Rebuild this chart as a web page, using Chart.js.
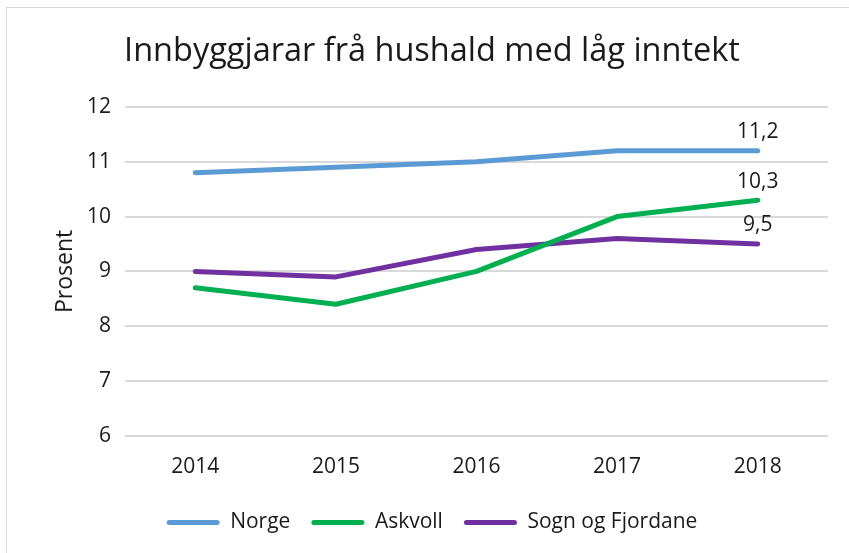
<!DOCTYPE html>
<html>
<head>
<meta charset="utf-8">
<script src="https://cdn.jsdelivr.net/npm/chart.js@4.4.0/dist/chart.umd.min.js"></script>
<style>
  html, body { margin: 0; padding: 0; background: #fff; overflow: hidden; }
  #frame { position: absolute; left: 6px; top: 7px; width: 900px; height: 600px; border: 1px solid #d9d9d9; }
  #wrap { position: absolute; left: 0; top: 0; width: 849px; height: 553px; }
</style>
</head>
<body>
<div id="frame"></div>
<div id="wrap"><canvas id="mygraph"></canvas></div>
<script>
// data
const years = ["2014", "2015", "2016", "2017", "2018"];
const norge = [10.8, 10.9, 11.0, 11.2, 11.2];
const askvoll = [8.7, 8.4, 9.0, 10.0, 10.3];
const sognFjordane = [9.0, 8.9, 9.4, 9.6, 9.5];

const titleText = "Innbyggjarar frå hushald med låg inntekt";

const FONT = "'Open Sans', 'Noto Sans', sans-serif";

// value label at the last point of each line, plus the title (centred like in the original, not on the canvas)
const extraText = {
    id: "extraText",
    afterLayout(chart) {
        // the original legend is centred on the frame, a bit right of the canvas middle
        chart.legend.left += 18;
        chart.legend.right += 18;
    },
    afterDatasetsDraw(chart) {
        const c = chart.ctx;
        c.save();
        c.font = "21px " + FONT;
        c.fillStyle = "#1a1a1a";
        c.textAlign = "center";
        c.textBaseline = "bottom";
        chart.data.datasets.forEach(function(ds, i) {
            const pts = chart.getDatasetMeta(i).data;
            const p = pts[pts.length - 1];
            const v = ds.data[ds.data.length - 1];
            c.fillText(v.toFixed(1).replace(".", ","), p.x, p.y - 8);
        });
        c.font = "32.5px " + FONT;
        c.textBaseline = "middle";
        c.fillText(titleText, 432, 52);
        c.restore();
    }
};

var ctx = document.getElementById("mygraph").getContext("2d");

var chart = new Chart(ctx, {
    type: "line",
    data: {
        labels: years,
        datasets: [{
            label: "Norge",
            data: norge,
            borderColor: "#5b9bd5",
            backgroundColor: "#5b9bd5",
        }, {
            label: "Askvoll",
            data: askvoll,
            borderColor: "#00b050",
            backgroundColor: "#00b050",
        }, {
            label: "Sogn og Fjordane",
            data: sognFjordane,
            borderColor: "#7030a0",
            backgroundColor: "#7030a0",
        }],
    },
    options: {
        responsive: true,
        maintainAspectRatio: false,
        animation: false,
        datasets: {
            line: {
                borderWidth: 5,
                pointRadius: 0,
                tension: 0,
                borderCapStyle: "round",
                borderJoinStyle: "round",
            },
        },
        layout: {
            padding: { left: 0, right: 21, top: 107, bottom: 10 },
        },
        scales: {
            x: {
                offset: true,
                grid: { display: false },
                border: { display: false },
                ticks: { color: "#1a1a1a", font: { family: FONT, size: 21 }, padding: 11 },
            },
            y: {
                min: 6,
                max: 12,
                ticks: { stepSize: 1, color: "#1a1a1a", font: { family: FONT, size: 21 }, padding: 14 },
                grid: { color: "#d9d9d9", lineWidth: 2, drawTicks: false },
                border: { display: false },
                title: {
                    display: true,
                    text: "Prosent",
                    color: "#1a1a1a",
                    font: { family: FONT, size: 23 },
                    padding: { top: 52, bottom: 0 },
                },
                afterFit: function(scale) {
                    scale.width = 125;
                },
            },
        },
        plugins: {
            title: { display: false },
            legend: {
                position: "bottom",
                labels: {
                    color: "#1a1a1a",
                    font: { family: FONT, size: 21 },
                    boxWidth: 53,
                    boxHeight: 5,
                    padding: 21,
                    useBorderRadius: true,
                    generateLabels: function(ch) {
                        const items = Chart.defaults.plugins.legend.labels.generateLabels(ch);
                        items.forEach(function(it) {
                            it.fillStyle = it.strokeStyle;
                            it.lineWidth = 0;
                            it.borderRadius = 2.5;
                        });
                        return items;
                    },
                },
            },
            tooltip: { enabled: false },
        },
    },
    plugins: [extraText],
});
</script>
</body>
</html>
